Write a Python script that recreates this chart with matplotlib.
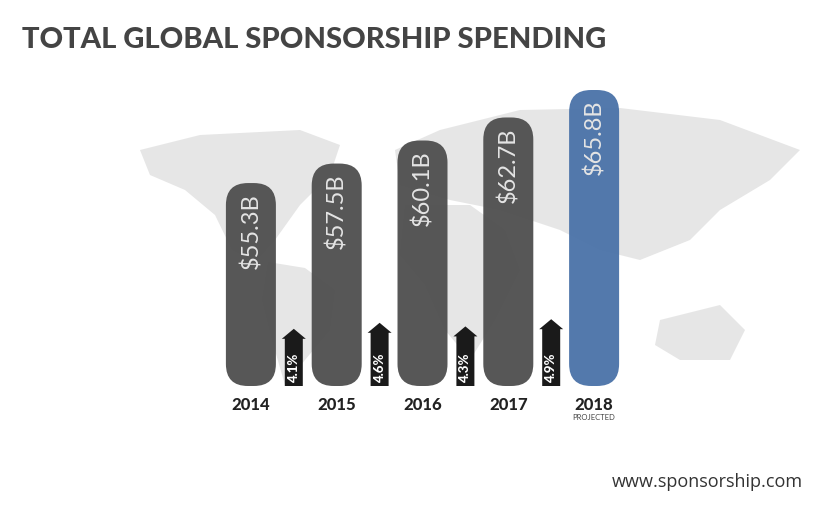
import matplotlib
matplotlib.use("Agg")
import matplotlib.pyplot as plt
from matplotlib.patches import FancyBboxPatch, Polygon

years = ["2014", "2015", "2016", "2017", "2018"]
values = [55.3, 57.5, 60.1, 62.7, 65.8]
labels = ["$55.3B", "$57.5B", "$60.1B", "$62.7B", "$65.8B"]
growth = [4.1, 4.6, 4.3, 4.9]
growth_labels = ["4.1%", "4.6%", "4.3%", "4.9%"]

W, H = 817, 515
fig = plt.figure(figsize=(W/100, H/100), dpi=100)
fig.patch.set_facecolor("white")

# decorative world map silhouette (background)
bg = fig.add_axes([0, 0, 1, 1]); bg.set_xlim(0, W); bg.set_ylim(H, 0); bg.axis("off")
mapc = "#e6e6e6"
shapes = [
    [(140,150),(200,135),(300,130),(340,145),(330,175),(300,205),(275,240),(255,262),(232,250),(215,215),(185,190),(150,175)],
    [(268,262),(305,268),(335,290),(330,330),(305,360),(285,385),(272,340),(262,300)],
    [(395,150),(440,130),(520,110),(620,108),(720,120),(800,150),(770,180),(720,210),(690,240),(640,260),(600,250),(560,230),(500,210),(450,200),(400,185)],
    [(405,205),(470,205),(505,230),(520,270),(495,320),(470,360),(445,330),(425,285),(400,255)],
    [(660,320),(720,305),(745,330),(730,360),(680,360),(655,345)],
]
for s in shapes:
    bg.add_patch(Polygon(s, closed=True, fc=mapc, ec="none"))

# bar axes: bottom at 386px, top 90px
base = 32.4
ax_l, ax_r, ax_b, ax_t = 208, 637, 386, 90
ax = fig.add_axes([ax_l/W, 1-ax_b/H, (ax_r-ax_l)/W, (ax_b-ax_t)/H])
ax.set_xlim(-0.5, 4.5); ax.set_ylim(base, values[-1]); ax.axis("off")
upx = 5/(ax_r-ax_l)
vpx = (values[-1]-base)/(ax_b-ax_t)
bw = 50*upx
r = 22*upx
for i, v in enumerate(values):
    col = "#4a72a8" if i == 4 else "#4e4e4e"
    ax.add_patch(FancyBboxPatch((i-bw/2+r, base+r*vpx/upx), bw-2*r, (v-base)-2*r*vpx/upx,
                                boxstyle=f"round,pad={r},rounding_size={r}",
                                mutation_aspect=vpx/upx, fc=col, ec="none", alpha=0.95, clip_on=False))
    ax.text(i, v-10*vpx, labels[i], rotation=90, ha="center", va="top",
            color="#e4e4e4", fontsize=17, fontweight="normal", family="Lato")

sw, hw, hh = 18*upx, 24*upx, 10*vpx
for i, g in enumerate(growth):
    x = i+0.5
    top = base + (12*g+8)*vpx
    ax.add_patch(Polygon([(x-sw/2, base), (x+sw/2, base), (x+sw/2, top-hh), (x+hw/2, top-hh),
                          (x, top), (x-hw/2, top-hh), (x-sw/2, top-hh)],
                         closed=True, fc="#1a1a1a", ec="none", clip_on=False))
    ax.text(x, base+3*vpx, growth_labels[i], rotation=90, ha="center", va="bottom",
            color="white", fontsize=9.5, fontweight="black", family="Lato")

for i, y in enumerate(years):
    ax.text(i, base-11*vpx, y, ha="center", va="top", fontsize=12, fontweight="black",
            color="#222222", family="Lato")
ax.text(4, base-28*vpx, "PROJECTED", ha="center", va="top", fontsize=5.5, color="#444444", family="Lato")

fig.text(22/W, 1-40/H, "TOTAL GLOBAL SPONSORSHIP SPENDING", fontsize=21, fontweight="black",
         color="#444444", family="Lato", va="center", ha="left")
fig.text(803/W, 1-482/H, "www.sponsorship.com", fontsize=13, color="#333333",
         family="Open Sans", va="center", ha="right")

fig.savefig("out.png", dpi=100, facecolor="white")
